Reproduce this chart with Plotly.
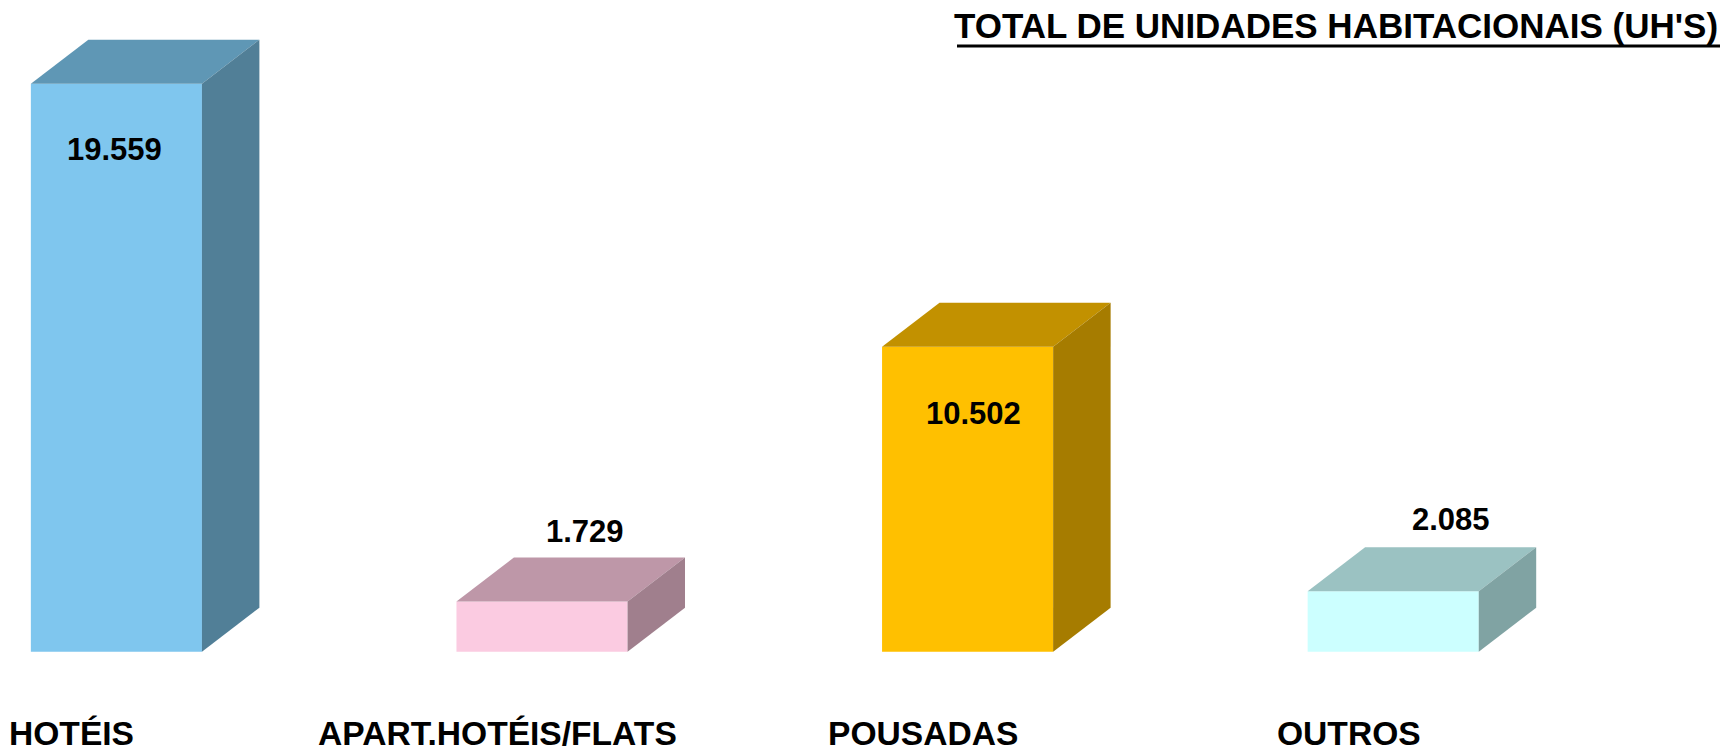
import plotly.graph_objects as go

categories = ["HOTÉIS", "APART.HOTÉIS/FLATS", "POUSADAS", "OUTROS"]
values = [19559, 1729, 10502, 2085]
value_labels = ["19.559", "1.729", "10.502", "2.085"]
title_text = "TOTAL DE UNIDADES HABITACIONAIS (UH'S)"

front_colors = ["#7FC6EE", "#FBCBE1", "#FFC000", "#CCFFFF"]
top_colors = ["#5F97B5", "#BE97A8", "#C29100", "#9BC2C2"]
side_colors = ["#517F97", "#A07F8D", "#A67C00", "#80A3A3"]

# style / layout constants
W, H = 1729, 751
BAR_W = 0.402          # bar width in category units
DX = 0.135             # depth offset (x units)
DY = 1515              # depth offset (y units)
XR = [-0.2735, 3.789]
YR = [-3419, 22442]
label_shift = [(-2, -66), (43, 70), (6, -67), (58, 72)]  # (xshift, yshift) px
cat_offset = -0.105

FONT = "Liberation Sans, Arial, sans-serif"

fig = go.Figure()
xs = list(range(len(categories)))

fig.add_trace(go.Bar(
    x=xs, y=values, width=BAR_W,
    marker=dict(color=front_colors, line=dict(width=0)),
    hoverinfo="skip", showlegend=False,
))

for i, v in enumerate(values):
    x0 = i - BAR_W / 2
    x1 = i + BAR_W / 2
    # top face
    fig.add_trace(go.Scatter(
        x=[x0, x0 + DX, x1 + DX, x1, x0],
        y=[v, v + DY, v + DY, v, v],
        fill="toself", fillcolor=top_colors[i], mode="lines",
        line=dict(width=0, color=top_colors[i]),
        hoverinfo="skip", showlegend=False,
    ))
    # side face
    fig.add_trace(go.Scatter(
        x=[x1, x1, x1 + DX, x1 + DX, x1],
        y=[0, v, v + DY, DY, 0],
        fill="toself", fillcolor=side_colors[i], mode="lines",
        line=dict(width=0, color=side_colors[i]),
        hoverinfo="skip", showlegend=False,
    ))

annotations = []
for i, (v, lab) in enumerate(zip(values, value_labels)):
    xsft, ysft = label_shift[i]
    annotations.append(dict(
        x=i, y=v, xref="x", yref="y", text="<b>%s</b>" % lab,
        showarrow=False, xshift=xsft, yshift=ysft,
        xanchor="center", yanchor="middle",
        font=dict(family=FONT, size=31, color="black"),
    ))
for i, c in enumerate(categories):
    annotations.append(dict(
        x=i + cat_offset, y=1 - 733 / H, xref="x", yref="paper",
        text="<b>%s</b>" % c, showarrow=False,
        xanchor="center", yanchor="middle",
        font=dict(family=FONT, size=33.6, color="black"),
    ))
annotations.append(dict(
    x=1720 / W, y=1 - 26 / H, xref="paper", yref="paper",
    text="<b>%s</b>" % title_text, showarrow=False,
    xanchor="right", yanchor="middle",
    font=dict(family=FONT, size=35, color="black"),
))

fig.update_layout(
    width=W, height=H,
    margin=dict(l=0, r=0, t=0, b=0),
    paper_bgcolor="white", plot_bgcolor="white",
    xaxis=dict(range=XR, visible=False, fixedrange=True),
    yaxis=dict(range=YR, visible=False, fixedrange=True),
    annotations=annotations,
    shapes=[dict(type="line", xref="paper", yref="paper",
                 x0=957 / W, x1=1720 / W, y0=1 - 46 / H, y1=1 - 46 / H,
                 line=dict(color="black", width=3))],
    hovermode=False,
)

fig.write_html(
    "out.html",
    config={"displayModeBar": False},
    post_script="document.body.style.margin='0';document.body.style.overflow='hidden';",
)
